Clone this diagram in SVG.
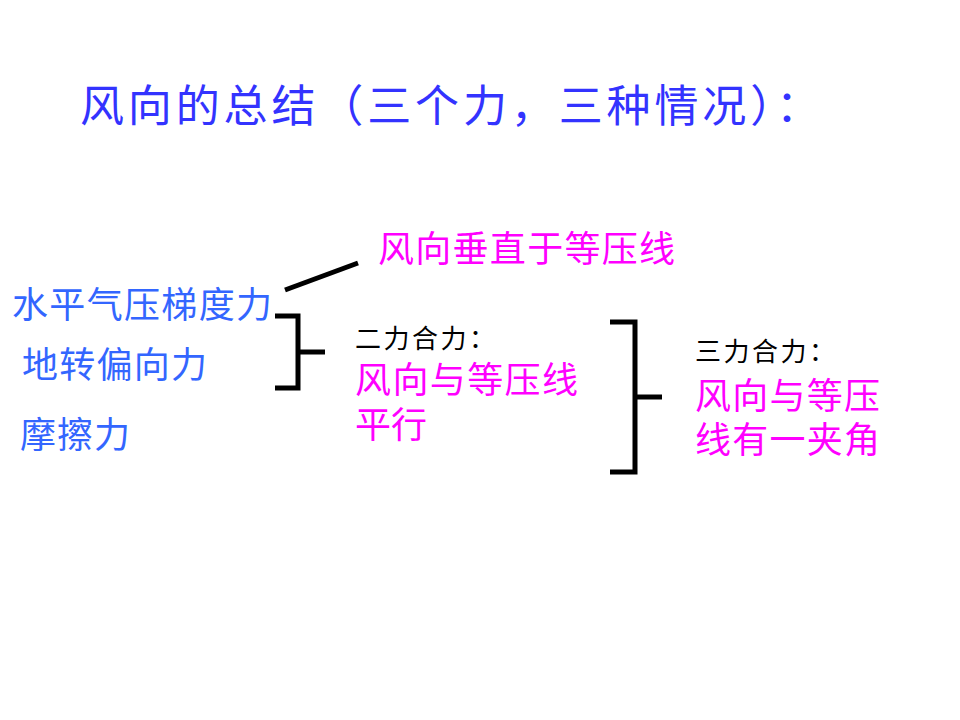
<svg xmlns="http://www.w3.org/2000/svg" width="960" height="720" viewBox="0 0 960 720">
<style>
text{font-family:"Noto Sans CJK SC","Noto Sans",sans-serif}
.t{fill:#3333ff;font-size:44px}
.b{fill:#3366ff;font-size:36px}
.m{fill:#ff00ff;font-size:36px}
.k{fill:#000;font-size:26px;font-family:"Noto Sans CJK SC",serif}
.ln{stroke:#000;stroke-width:5;fill:none}
</style>
<rect width="960" height="720" fill="#fff"/>
<g id="title"><text class="t" x="80" y="122" textLength="740" lengthAdjust="spacing">风向的总结（三个力，三种情况）：</text></g>
<g id="forces">
<text class="b" x="12" y="318" textLength="260">水平气压梯度力</text>
<text class="b" x="22" y="378" textLength="185">地转偏向力</text>
<text class="b" x="20" y="448" textLength="110">摩擦力</text>
</g>
<g id="case1"><text class="m" x="378" y="262" textLength="297">风向垂直于等压线</text></g>
<g id="case2">
<text class="k" x="355" y="348" textLength="140">二力合力：</text>
<text class="m" x="355" y="393" textLength="223">风向与等压线</text>
<text class="m" x="355" y="438">平行</text>
</g>
<g id="case3">
<text class="k" x="695" y="361" textLength="140">三力合力：</text>
<text class="m" x="695" y="409" textLength="185">风向与等压</text>
<text class="m" x="695" y="453" textLength="185">线有一夹角</text>
</g>
<g id="connectors">
<line class="ln" x1="285" y1="290" x2="358" y2="263"/>
<polyline class="ln" points="275,316 298,316 298,388 275,388"/>
<line class="ln" x1="298" y1="352" x2="325" y2="352"/>
<polyline class="ln" points="610,322 635,322 635,472 610,472"/>
<line class="ln" x1="635" y1="397" x2="662" y2="397"/>
</g>
</svg>
